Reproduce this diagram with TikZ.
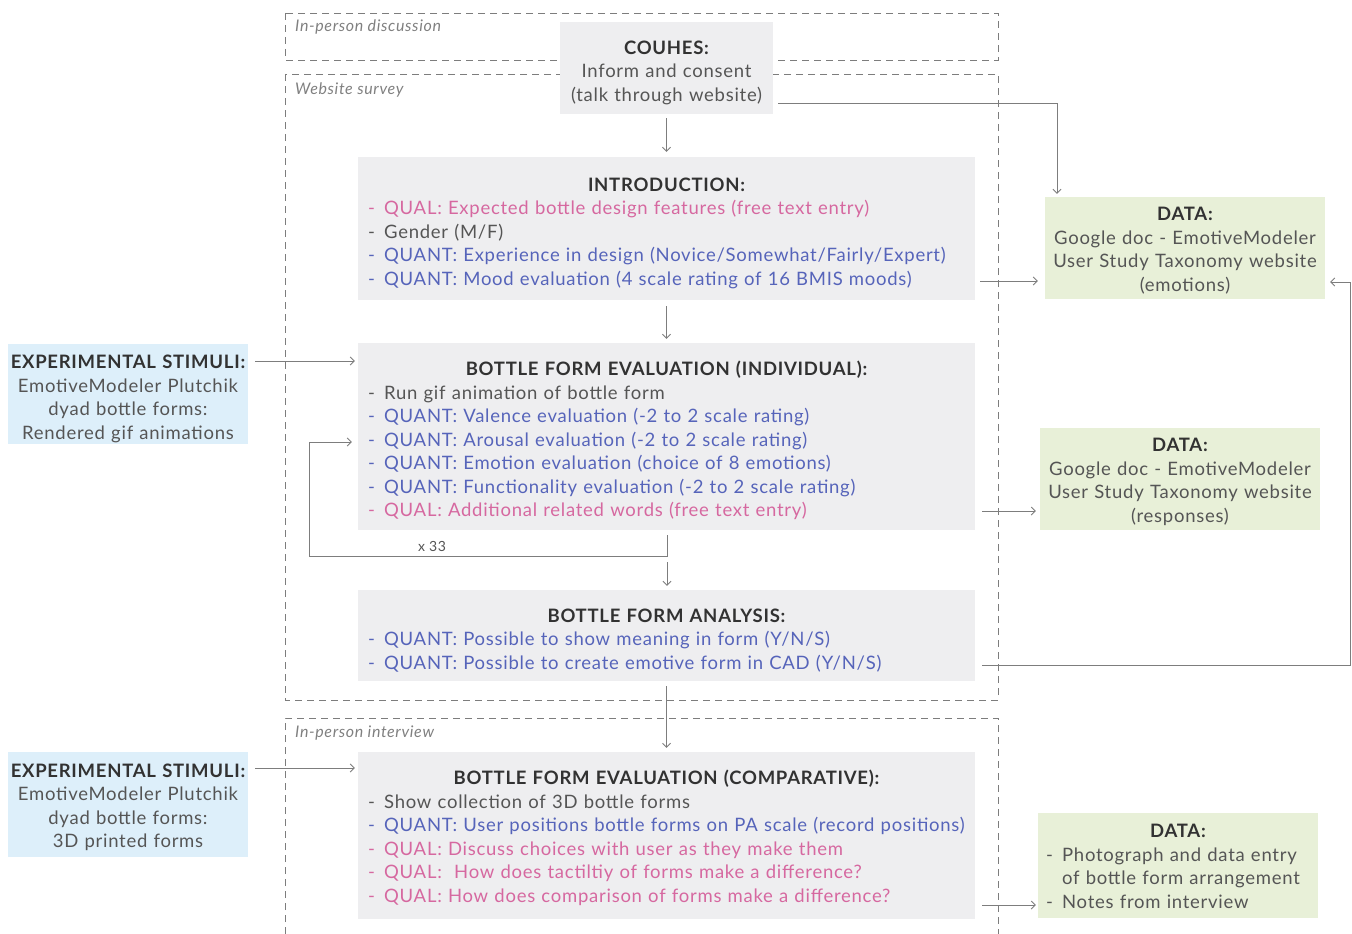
\documentclass[tikz,border=0pt]{standalone}
\usepackage{fontspec}
\setmainfont{Lato}[LetterSpace=4]
\usetikzlibrary{arrows.meta,positioning,calc}

\definecolor{boxgray}{RGB}{238,238,240}
\definecolor{boxblue}{RGB}{221,239,250}
\definecolor{boxgreen}{RGB}{232,240,216}
\definecolor{qualpink}{RGB}{214,104,160}
\definecolor{quantblue}{RGB}{86,100,186}
\definecolor{txtgray}{RGB}{85,85,85}
\definecolor{titlegray}{RGB}{50,50,50}
\definecolor{linegray}{RGB}{125,125,125}

\newcommand{\qual}[1]{\textcolor{qualpink}{-\enspace QUAL: #1}}
\newcommand{\quant}[1]{\textcolor{quantblue}{-\enspace QUANT: #1}}
\newcommand{\plain}[1]{-\enspace #1}
\newcommand{\heading}[1]{\makebox[\hsize]{\textbf{\textcolor{titlegray}{#1}}}}

\tikzset{
    textdrop/.style={execute at begin node={\rule{0pt}{#1}}},
    textlift/.style={execute at end node={\par\vspace*{#1}}},
    stage/.style={fill=boxgray, inner xsep=10pt, inner ysep=0pt, text width=597pt,
        align=left, text=txtgray, font=\fontsize{18.5}{23.5}\selectfont, textdrop=23pt},
    consent/.style={fill=boxgray, inner sep=0pt, text width=213pt, minimum height=92pt,
        align=center, text=txtgray, font=\fontsize{18.5}{23.5}\selectfont, textdrop=23pt},
    stimulus/.style={fill=boxblue, inner sep=0pt, text width=240pt, minimum height=100pt,
        align=center, text=txtgray, font=\fontsize{18.5}{23.5}\selectfont, textdrop=23pt},
    databox/.style={fill=boxgreen, inner sep=0pt, text width=280pt, minimum height=102pt,
        align=center, text=txtgray, font=\fontsize{18.5}{23.5}\selectfont, textdrop=19pt},
    region/.style={draw=linegray, dash pattern=on 7pt off 5pt, line width=0.7pt},
    regionlabel/.style={anchor=west, inner sep=0pt, text=gray, font=\itshape\fontsize{16}{18}\selectfont},
    link/.style={->, draw=linegray, line width=0.8pt}
}

\begin{document}
\begin{tikzpicture}[x=1pt, y=-1pt, >={Straight Barb[length=4pt,width=8pt]}]
    \useasboundingbox (0,0) rectangle (1352,934);

    % survey phases
    \draw[region] (285,13) rectangle (998,60);
    \draw[region] (285,74) rectangle (998,700);
    \draw[region] (285,934) -- (285,718) -- (998,718) -- (998,934);
    \node[regionlabel] (discussion) at (295,27) {In-person discussion};
    \node[regionlabel] (survey) at (295,90) {Website survey};
    \node[regionlabel] (interview) at (295,733) {In-person interview};

    \node[consent] (couhes) at (666.5,68) {\textbf{\textcolor{titlegray}{COUHES:}}\\
        Inform and consent\\ (talk through website)};

    \node[stage, minimum height=143pt] (intro) at (666.5,228.5) {\heading{INTRODUCTION:}\\
        \qual{Expected bottle design features (free text entry)}\\
        \plain{Gender (M/F)}\\
        \quant{Experience in design (Novice/Somewhat/Fairly/Expert)}\\
        \quant{Mood evaluation (4 scale rating of 16 BMIS moods)}};

    \node[stage, minimum height=187pt] (indiv) at (666.5,436.5) {\heading{BOTTLE FORM EVALUATION (INDIVIDUAL):}\\
        \plain{Run gif animation of bottle form}\\
        \quant{Valence evaluation (-2 to 2 scale rating)}\\
        \quant{Arousal evaluation (-2 to 2 scale rating)}\\
        \quant{Emotion evaluation (choice of 8 emotions)}\\
        \quant{Functionality evaluation (-2 to 2 scale rating)}\\
        \qual{Additional related words (free text entry)}};

    \node[stage, minimum height=91pt] (analysis) at (666.5,635.5) {\heading{BOTTLE FORM ANALYSIS:}\\
        \quant{Possible to show meaning in form (Y/N/S)}\\
        \quant{Possible to create emotive form in CAD (Y/N/S)}};

    \node[stage, minimum height=167pt, textdrop=0pt, textlift=4pt] (compare) at (666.5,835.5) {\heading{BOTTLE FORM EVALUATION (COMPARATIVE):}\\
        \plain{Show collection of 3D bottle forms}\\
        \quant{User positions bottle forms on PA scale (record positions)}\\
        \qual{Discuss choices with user as they make them}\\
        \qual{\ How does tactiltiy of forms make a difference?}\\
        \qual{How does comparison of forms make a difference?}};

    % stimuli
    \node[stimulus] (stim1) at (128,394) {\textbf{\textcolor{titlegray}{EXPERIMENTAL STIMULI:}}\\
        EmotiveModeler Plutchik\\ dyad bottle forms:\\ Rendered gif animations};
    \node[stimulus, minimum height=105pt, textdrop=0pt, textlift=4pt] (stim2) at (128,804.5) {\textbf{\textcolor{titlegray}{EXPERIMENTAL STIMULI:}}\\
        EmotiveModeler Plutchik\\ dyad bottle forms:\\ 3D printed forms};

    % data
    \node[databox] (data1) at (1185,248) {\textbf{\textcolor{titlegray}{DATA:}}\\
        Google doc - EmotiveModeler\\ User Study Taxonomy website\\ (emotions)};
    \node[databox] (data2) at (1180,479) {\textbf{\textcolor{titlegray}{DATA:}}\\
        Google doc - EmotiveModeler\\ User Study Taxonomy website\\ (responses)};
    \node[databox, minimum height=105pt, align=left, inner xsep=8pt, text width=264pt, textdrop=0pt, textlift=4pt] (data3) at (1178,865.5) {\heading{DATA:}\\
        \plain{Photograph and data entry}\\ \phantom{-\enspace}of bottle form arrangement\\
        \plain{Notes from interview}};

    % flow
    \draw[link, shorten <=4pt, shorten >=5pt] (couhes) -- (intro);
    \draw[link, shorten <=5pt, shorten >=3pt] (couhes.east |- 0,103) -| (data1.north west -| 1057,0);
    \draw[link, shorten <=5pt, shorten >=7pt] (intro.east |- 0,281) -- (data1.west |- 0,281);
    \draw[link, shorten <=6pt, shorten >=4pt] (intro) -- (indiv);
    \draw[link, shorten <=7pt, shorten >=3pt] (stim1.east |- 0,361) -- (indiv.west |- 0,361);

    \coordinate (repeat) at (667,556);
    \draw[link, shorten <=5pt, shorten >=6pt] (indiv.south -| repeat) -- (repeat) -| (309,442) -- (indiv.west |- 0,442);
    \node[text=txtgray, font=\fontsize{14}{16}\selectfont] (times) at (432,546) {x 33};
    \draw[link, shorten <=6pt, shorten >=4pt] (repeat) -- (analysis.north -| repeat);

    \draw[link, shorten <=7pt, shorten >=4pt] (indiv.east |- 0,511) -- (data2.west |- 0,511);
    \draw[link, shorten <=7pt, shorten >=5pt] (analysis.east |- 0,665) -- (1350,665) |- (data1.east |- 0,282);
    \draw[link, shorten <=5pt, shorten >=4pt] (analysis) -- (compare);
    \draw[link, shorten <=7pt, shorten >=3pt] (stim2.east |- 0,768) -- (compare.west |- 0,768);
    \draw[link, shorten <=7pt, shorten >=2pt] (compare.east |- 0,905) -- (data3.west |- 0,905);
\end{tikzpicture}
\end{document}
